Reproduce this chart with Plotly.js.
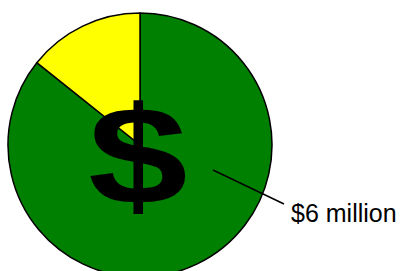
<!DOCTYPE html>
<html>
<head>
<meta charset="utf-8">
<script src="https://cdn.plot.ly/plotly-3.0.1.min.js"></script>
<style>
html,body{margin:0;padding:0;background:#fff;overflow:hidden;}
#wrap{width:402px;height:271px;overflow:hidden;}
</style>
</head>
<body>
<div id="wrap"><div id="chart"></div></div>
<script>
const labels = ["Main", "Other"];
const values = [6, 1];
const colors = ["#008000", "#ffff00"];
const valueLabel = "$6 million";
const symbol = "$";

const W = 402, H = 290;
const px = x => x / W;
const py = y => 1 - y / H;

const data = [{
  type: "pie",
  labels: labels,
  values: values,
  sort: false,
  direction: "clockwise",
  rotation: 0,
  textinfo: "none",
  hoverinfo: "none",
  marker: {colors: colors, line: {color: "#000000", width: 1.5}},
  domain: {x: [px(8), px(272)], y: [1 - 277 / H, 1 - 13 / H]},
  showlegend: false
}];

const layout = {
  width: W, height: H,
  margin: {l: 0, r: 0, t: 0, b: 0},
  paper_bgcolor: "#ffffff",
  showlegend: false,
  font: {family: "Liberation Sans, Arial, sans-serif", color: "#000"},
  shapes: [{
    type: "line", xref: "paper", yref: "paper",
    x0: px(213), y0: py(170), x1: px(284), y1: py(204),
    line: {color: "#000", width: 1.5}
  }],
  annotations: [
    {text: "<b>" + symbol + "</b>", xref: "paper", yref: "paper", x: px(138), y: py(155),
     xanchor: "center", yanchor: "middle", showarrow: false,
     font: {size: 140, family: "Liberation Sans, Arial, sans-serif", color: "#000"}},
    {text: valueLabel, xref: "paper", yref: "paper", x: px(289), y: py(213),
     xanchor: "left", yanchor: "middle", showarrow: false,
     font: {size: 25, family: "Liberation Sans, Arial, sans-serif", color: "#000"}}
  ]
};

Plotly.newPlot("chart", data, layout, {displayModeBar: false, staticPlot: true}).then(function (gd) {
  const t = gd.querySelector(".annotation text");
  if (t) {
    t.style.transformBox = "fill-box";
    t.style.transformOrigin = "center";
    t.style.transform = "scaleX(1.28)";
  }
});
</script>
</body>
</html>
